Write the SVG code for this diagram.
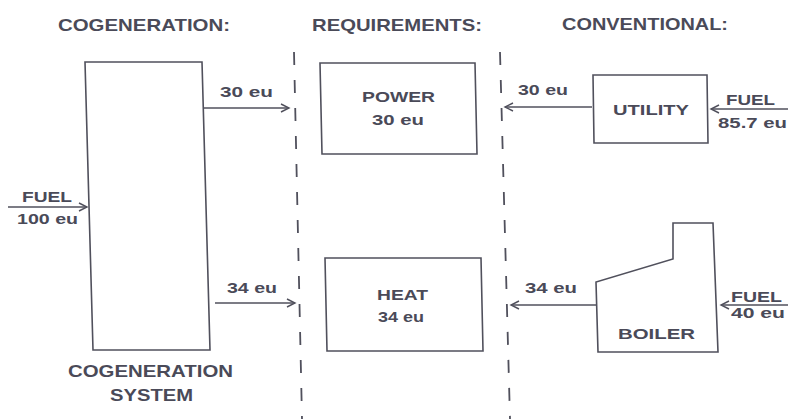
<svg xmlns="http://www.w3.org/2000/svg" width="788" height="419" viewBox="0 0 788 419">
<defs>
<style>
text{font-family:"Liberation Sans",Arial,sans-serif;fill:#4a4a58;font-weight:bold}
.t{font-size:17px}
.l{font-size:14px}
.f{font-size:15px}
.box{fill:none;stroke:#50505c;stroke-width:1.6;stroke-linejoin:miter}
.ar{fill:none;stroke:#50505c;stroke-width:1.4;marker-end:url(#ah)}
.dash{fill:none;stroke:#50505c;stroke-width:1.8;stroke-dasharray:13 15}
</style>
<marker id="ah" markerUnits="userSpaceOnUse" markerWidth="12" markerHeight="12" viewBox="-10 -6 12 12" refX="0" refY="0" orient="auto">
<path d="M-8,-4 L0,0 L-8,4" fill="none" stroke="#50505c" stroke-width="1.4"/>
</marker>
</defs>
<rect width="788" height="419" fill="#ffffff"/>
<g id="headers">
<text class="t" x="58" y="31" textLength="172" lengthAdjust="spacingAndGlyphs">COGENERATION:</text>
<text class="t" x="312" y="31" textLength="170" lengthAdjust="spacingAndGlyphs">REQUIREMENTS:</text>
<text class="t" x="562" y="30" textLength="166" lengthAdjust="spacingAndGlyphs">CONVENTIONAL:</text>
</g>
<g id="dividers">
<line class="dash" x1="294" y1="52" x2="302" y2="419"/>
<line class="dash" x1="500" y1="52" x2="510" y2="419"/>
</g>
<g id="cogeneration-system">
<polygon class="box" points="85,62 202,62 210,350 93,350"/>
<text class="t" x="68" y="377" textLength="165" lengthAdjust="spacingAndGlyphs">COGENERATION</text>
<text class="t" x="110" y="401" textLength="83" lengthAdjust="spacingAndGlyphs">SYSTEM</text>
</g>
<g id="power">
<polygon class="box" points="320,63 475,63 477,154 322,154"/>
<text class="f" x="362" y="102" textLength="73" lengthAdjust="spacingAndGlyphs">POWER</text>
<text class="l" x="372" y="125" textLength="52" lengthAdjust="spacingAndGlyphs">30 eu</text>
</g>
<g id="heat">
<polygon class="box" points="325,258 481,258 483,351 327,351"/>
<text class="f" x="377" y="300" textLength="51" lengthAdjust="spacingAndGlyphs">HEAT</text>
<text class="l" x="378" y="322" textLength="46" lengthAdjust="spacingAndGlyphs">34 eu</text>
</g>
<g id="utility">
<polygon class="box" points="593,75 707,75 708,143 594,143"/>
<text class="f" x="613" y="115" textLength="76" lengthAdjust="spacingAndGlyphs">UTILITY</text>
</g>
<g id="boiler">
<polygon class="box" points="673,223 713,223 718,352 598,352 596,282 673,259"/>
<text class="f" x="618" y="339" textLength="77" lengthAdjust="spacingAndGlyphs">BOILER</text>
</g>
<g id="connectors">
<line class="ar" x1="204" y1="108" x2="289" y2="108"/>
<line class="ar" x1="215" y1="303" x2="295" y2="303"/>
<line class="ar" x1="8" y1="207" x2="87" y2="207"/>
<line class="ar" x1="592" y1="107" x2="505" y2="107"/>
<line class="ar" x1="788" y1="109" x2="711" y2="109"/>
<line class="ar" x1="597" y1="305" x2="511" y2="305"/>
<line class="ar" x1="788" y1="305" x2="721" y2="305"/>
</g>
<g id="labels">
<text class="l" x="220" y="97" textLength="53" lengthAdjust="spacingAndGlyphs">30 eu</text>
<text class="l" x="227" y="293" textLength="50" lengthAdjust="spacingAndGlyphs">34 eu</text>
<text class="f" x="22" y="202" textLength="50" lengthAdjust="spacingAndGlyphs">FUEL</text>
<text class="l" x="17" y="224" textLength="61" lengthAdjust="spacingAndGlyphs">100 eu</text>
<text class="l" x="518" y="95" textLength="50" lengthAdjust="spacingAndGlyphs">30 eu</text>
<text class="f" x="726" y="105" textLength="49" lengthAdjust="spacingAndGlyphs">FUEL</text>
<text class="l" x="718" y="128" textLength="69" lengthAdjust="spacingAndGlyphs">85.7 eu</text>
<text class="l" x="525" y="293" textLength="52" lengthAdjust="spacingAndGlyphs">34 eu</text>
<text class="f" x="731" y="302" textLength="51" lengthAdjust="spacingAndGlyphs">FUEL</text>
<text class="l" x="731" y="318" textLength="54" lengthAdjust="spacingAndGlyphs">40 eu</text>
</g>
</svg>
